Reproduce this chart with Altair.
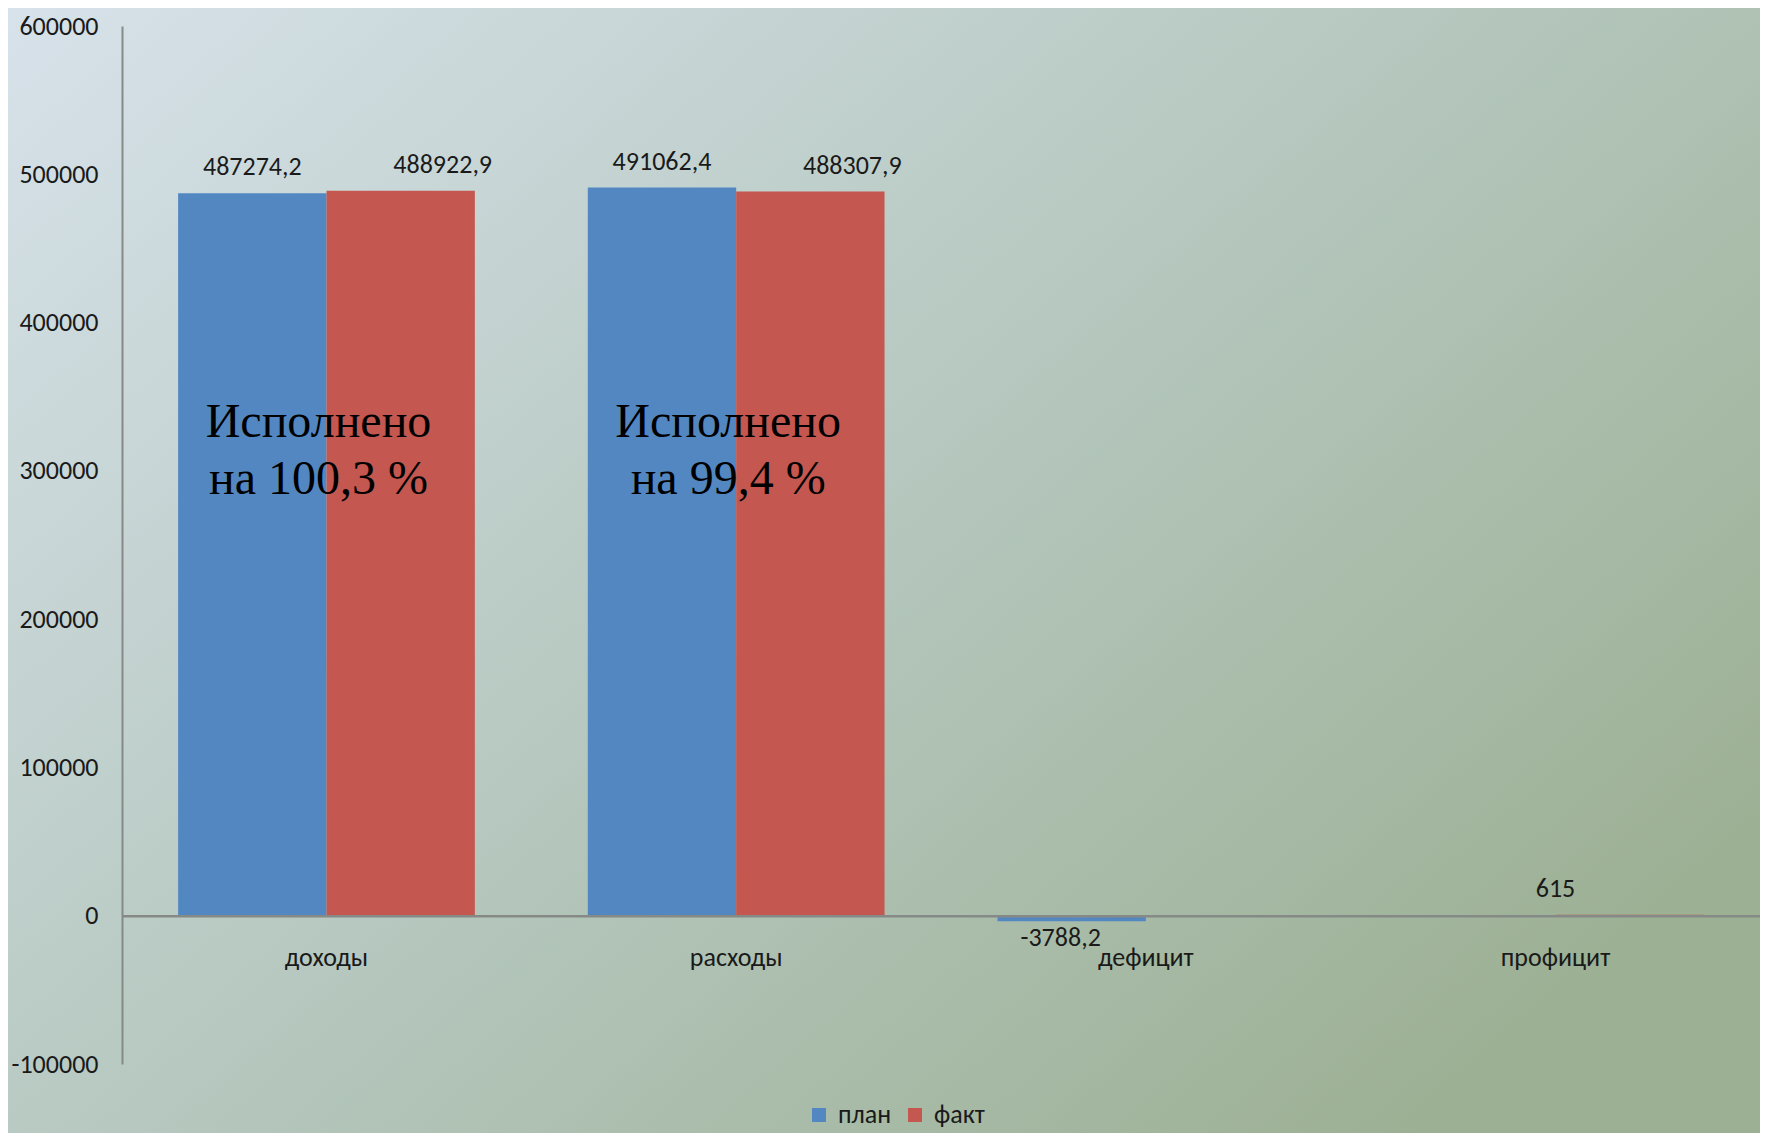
import altair as alt
import pandas as pd

# ---- data ----
categories = ["доходы", "расходы", "дефицит", "профицит"]
series = ["план", "факт"]
plan_values = [487274.2, 491062.4, -3788.2, None]
fact_values = [488922.9, 488307.9, None, 615]
y_ticks = [-100000, 0, 100000, 200000, 300000, 400000, 500000, 600000]

note_categories = ["доходы", "доходы", "расходы", "расходы"]
note_texts = ["Исполнено", "на 100,3 %", "Исполнено", "на 99,4 %"]
note_values = [332000, 294000, 332000, 294000]

series_colors = ["#5387c2", "#c4574f"]


def fmt(v):
    if float(v).is_integer():
        return str(int(v))
    return f"{v:.1f}".replace(".", ",")


rows = []
for c, p, f in zip(categories, plan_values, fact_values):
    if p is not None:
        rows.append({"category": c, "series": "план", "value": p, "label": fmt(p)})
    if f is not None:
        rows.append({"category": c, "series": "факт", "value": f, "label": fmt(f)})
df = pd.DataFrame(rows)
notes = pd.DataFrame({"category": note_categories, "text": note_texts, "value": note_values})

FONT = "Carlito, Lato, Open Sans"
FS = 26
TXT = "#1a1a1a"
AXIS_GRAY = "#868a86"
W, H = 1638, 1038
PAD = {"left": 114, "top": 18, "right": 0, "bottom": 69}
ZERO_OFFSET = -H * 100000 / 700000

x_enc = alt.X(
    "category:N",
    sort=categories,
    scale=alt.Scale(domain=categories, paddingInner=0.2757, paddingOuter=0.137),
    axis=alt.Axis(
        title=None, labelAngle=0, ticks=False, offset=ZERO_OFFSET, zindex=1,
        domainColor=AXIS_GRAY, domainWidth=2.4, labelFont=FONT, labelFontSize=FS,
        labelColor=TXT, labelPadding=29,
    ),
)
y_enc = alt.Y(
    "value:Q",
    scale=alt.Scale(domain=[-100000, 600000], nice=False),
    axis=alt.Axis(
        title=None, values=y_ticks, labelExpr="toString(datum.value)", ticks=False,
        grid=False, zindex=1,
        domainColor=AXIS_GRAY, domainWidth=2, labelFont=FONT, labelFontSize=FS,
        labelColor=TXT, labelPadding=24, labelFlush=False, labelOverlap=False,
    ),
)
xoff = alt.XOffset("series:N", sort=series,
                   scale=alt.Scale(domain=series, paddingInner=0, paddingOuter=0))

# background gradient
gradient = alt.LinearGradient(
    gradient="linear",
    stops=[
        alt.GradientStop(color="#d7e2ea", offset=0),
        alt.GradientStop(color="#b7c9c1", offset=0.5),
        alt.GradientStop(color="#9cb094", offset=1),
    ],
    x1=0, y1=0, x2=1, y2=0.74,
)
bg = alt.Chart(pd.DataFrame({"a": [0]})).mark_rect(fill=gradient, strokeWidth=0).encode(
    x=alt.value(-PAD["left"]), x2=alt.value(W + PAD["right"]),
    y=alt.value(-PAD["top"]), y2=alt.value(H + PAD["bottom"]),
)

base = alt.Chart(df)

bars = base.mark_bar().encode(
    x=x_enc,
    xOffset=xoff,
    y=y_enc,
    color=alt.Color(
        "series:N", sort=series,
        scale=alt.Scale(domain=series, range=series_colors),
        legend=alt.Legend(
            title=None, orient="none", legendX=684, legendY=1076,
            direction="horizontal", symbolType="square", symbolSize=196,
            symbolStrokeWidth=0, labelFont=FONT, labelFontSize=FS,
            labelColor=TXT, columnPadding=10, labelOffset=6, zindex=1,
        ),
    ),
)

text_common = dict(font=FONT, fontSize=FS, color=TXT, baseline="middle", align="center")

plan_pos = base.transform_filter("datum.series == 'план' && datum.value > 0").mark_text(
    dy=-26, **text_common).encode(x="category:N", xOffset="series:N", y="value:Q", text="label:N")
plan_neg = base.transform_filter("datum.series == 'план' && datum.value < 0").mark_text(
    dy=17, dx=-11, **text_common).encode(x="category:N", xOffset="series:N", y="value:Q", text="label:N")
fact_big = base.transform_filter("datum.series == 'факт' && datum.value > 1000").mark_text(
    dy=-26, dx=42, **text_common).encode(x="category:N", xOffset="series:N", y="value:Q", text="label:N")
fact_small = base.transform_filter("datum.series == 'факт' && datum.value > 0 && datum.value < 1000").mark_text(
    dy=-26, **text_common).encode(x="category:N", y="value:Q", text="label:N")

note_layer = alt.Chart(notes).mark_text(
    font="Liberation Serif", fontSize=48, color="#000000", baseline="middle", align="center", dx=-8
).encode(x="category:N", y="value:Q", text="text:N")

chart = alt.layer(bg, bars, plan_pos, plan_neg, fact_big, fact_small, note_layer).properties(
    width=W, height=H,
    autosize=alt.AutoSizeParams(type="none"),
    padding=PAD,
    background="#b9cbc3",
).configure_view(stroke=None)

chart.save("out.html", embed_options={"renderer": "svg", "actions": False})
